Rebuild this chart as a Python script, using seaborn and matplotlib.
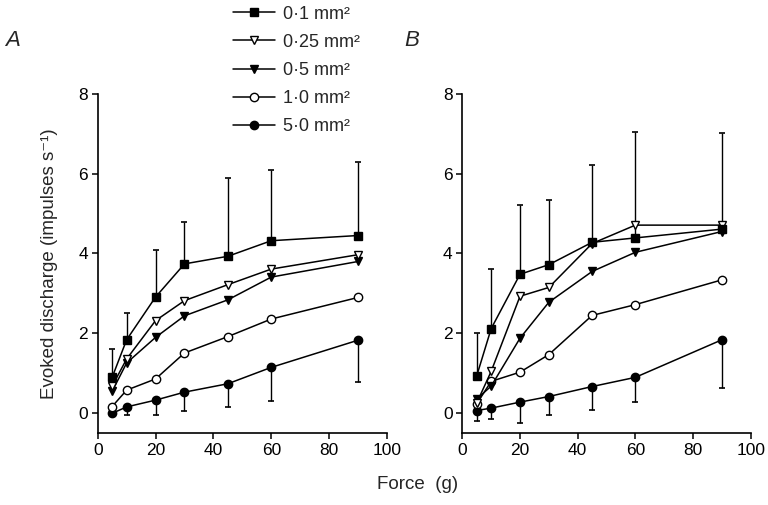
import matplotlib
matplotlib.use("Agg")
import matplotlib.pyplot as plt
from matplotlib.lines import Line2D
import seaborn as sns
import numpy as np
import pandas as pd

sns.set_theme(style="ticks")
plt.rcParams['font.family'] = ['Liberation Sans', 'DejaVu Sans']

force = [5, 10, 20, 30, 45, 60, 90]
labels = ["0·1 mm²", "0·25 mm²", "0·5 mm²", "1·0 mm²", "5·0 mm²"]

# Panel A
a_01 = [0.90, 1.84, 2.91, 3.74, 3.93, 4.32, 4.45]
a_025 = [0.68, 1.36, 2.32, 2.82, 3.22, 3.61, 3.97]
a_05 = [0.55, 1.26, 1.90, 2.44, 2.84, 3.41, 3.80]
a_10 = [0.17, 0.58, 0.86, 1.51, 1.92, 2.36, 2.90]
a_50 = [0.00, 0.16, 0.33, 0.53, 0.74, 1.15, 1.83]
a_upper = [1.60, 2.52, 4.08, 4.78, 5.88, 6.10, 6.28]
a_lower = [0.00, -0.03, -0.05, 0.07, 0.17, 0.32, 0.78]

# Panel B
b_01 = [0.94, 2.12, 3.48, 3.72, 4.28, 4.39, 4.61]
b_025 = [0.26, 1.05, 2.93, 3.15, 4.25, 4.71, 4.71]
b_05 = [0.36, 0.68, 1.88, 2.78, 3.55, 4.03, 4.55]
b_10 = [0.24, 0.80, 1.03, 1.47, 2.45, 2.72, 3.34]
b_50 = [0.07, 0.13, 0.28, 0.42, 0.67, 0.90, 1.84]
b_upper = [2.02, 3.61, 5.22, 5.33, 6.22, 7.03, 7.01]
b_lower = [-0.18, -0.13, -0.24, -0.03, 0.09, 0.28, 0.64]

styles = [
    dict(marker='s', mfc='black'),
    dict(marker='v', mfc='white'),
    dict(marker='v', mfc='black'),
    dict(marker='o', mfc='white'),
    dict(marker='o', mfc='black'),
]

fig = plt.figure(figsize=(7.68, 5.05), dpi=100)
axA = fig.add_axes([0.1272, 0.142, 0.3767, 0.6725])
axB = fig.add_axes([0.602, 0.142, 0.3755, 0.6725])

lw = 1.1
ms = 6.0

def draw(ax, series, upper, lower, upper_series):
    ax.errorbar(force, series[upper_series],
                yerr=[np.zeros(len(force)), np.array(upper) - np.array(series[upper_series])],
                fmt='none', ecolor='black', elinewidth=1.0, capsize=2.2, capthick=1.2, zorder=1)
    ax.errorbar(force, series[4],
                yerr=[np.array(series[4]) - np.array(lower), np.zeros(len(force))],
                fmt='none', ecolor='black', elinewidth=1.0, capsize=2.2, capthick=1.2, zorder=1)
    for i, (vals, st) in enumerate(zip(series, styles)):
        df = pd.DataFrame({"force": force, "val": vals})
        sns.lineplot(data=df, x="force", y="val", ax=ax, color='black', lw=lw,
                     marker=st['marker'], markersize=ms, markerfacecolor=st['mfc'],
                     markeredgecolor='black', markeredgewidth=1.0, zorder=3 + (4 - i))
    ax.set_xlim(0, 100)
    ax.set_ylim(-0.5, 8)
    ax.set_xticks([0, 20, 40, 60, 80, 100])
    ax.set_yticks([0, 2, 4, 6, 8])
    ax.set_xlabel("")
    ax.set_ylabel("")
    for s in ['top', 'right']:
        ax.spines[s].set_visible(False)
    for s in ['left', 'bottom']:
        ax.spines[s].set_linewidth(1.2)
        ax.spines[s].set_color('black')
    ax.tick_params(direction='out', length=4, width=1.1, labelsize=12.5, colors='black', pad=3)

draw(axA, [a_01, a_025, a_05, a_10, a_50], a_upper, a_lower, 0)
draw(axB, [b_01, b_025, b_05, b_10, b_50], b_upper, b_lower, 0)

axA.set_ylabel("Evoked discharge (impulses s⁻¹)", fontsize=13.5, labelpad=15)
fig.text(0.544, 0.041, "Force  (g)", fontsize=13.5, ha='center', va='center')

fig.text(0.006, 0.92, "A", fontsize=16, style='italic', ha='left', va='center')
fig.text(0.526, 0.92, "B", fontsize=16, style='italic', ha='left', va='center')

handles = [Line2D([0], [0], color='black', lw=lw, marker=st['marker'], markersize=ms,
                  markerfacecolor=st['mfc'], markeredgecolor='black', markeredgewidth=1.0)
           for st in styles]
fig.legend(handles, labels, loc='upper left', bbox_to_anchor=(0.287, 1.014),
           frameon=False, fontsize=13, handlelength=2.3, handletextpad=0.45,
           labelspacing=0.62, borderpad=0.2)

fig.savefig("out.png", dpi=100)
